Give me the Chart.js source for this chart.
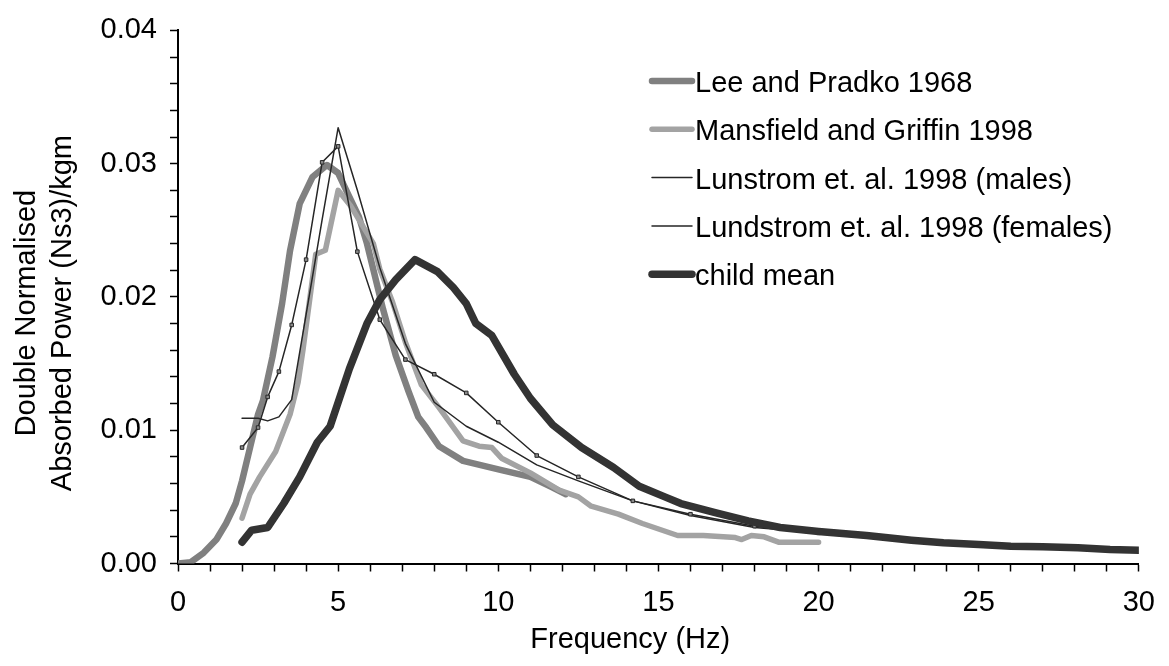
<!DOCTYPE html>
<html>
<head>
<meta charset="utf-8">
<script src="https://cdn.jsdelivr.net/npm/chart.js@4.4.1/dist/chart.umd.min.js"></script>
<style>
  body { margin: 0; background: #fff; }
  #wrap { width: 1169px; height: 666px; position: relative; }
</style>
</head>
<body>
<div id="wrap"><canvas id="chart"></canvas></div>
<script>
// Lee and Pradko 1968
const leeFreq = [0, 0.4, 0.8, 1.2, 1.5, 1.8, 2.0, 2.25, 2.5, 2.65, 2.95, 3.25, 3.5, 3.8, 4.2, 4.65, 5.0, 5.35, 5.65, 5.9, 6.4, 6.8, 7.2, 7.5, 7.75, 8.15, 8.9, 10.1, 11.0, 11.7, 12.1]
const leeVal = [0, 0.0001, 0.0008, 0.0018, 0.003, 0.0045, 0.0062, 0.0087, 0.0112, 0.0122, 0.0155, 0.0195, 0.0235, 0.027, 0.029, 0.0299, 0.0293, 0.0275, 0.026, 0.024, 0.0191, 0.0156, 0.0129, 0.011, 0.0102, 0.0088, 0.0077, 0.007, 0.0065, 0.0057, 0.0052]

// Mansfield and Griffin 1998
const mgFreq = [2.0, 2.25, 2.55, 3.05, 3.5, 3.75, 3.9, 4.1, 4.3, 4.6, 5.0, 5.4, 6.1, 6.3, 6.7, 7.1, 7.6, 8.15, 8.9, 9.4, 9.8, 10.1, 11.0, 11.9, 12.5, 12.9, 13.75, 14.5, 15.6, 16.4, 17.4, 17.6, 17.9, 18.3, 18.75, 20.0]
const mgVal = [0.0034, 0.0052, 0.0065, 0.0084, 0.0112, 0.0136, 0.016, 0.0196, 0.0232, 0.0235, 0.028, 0.0268, 0.024, 0.0221, 0.0196, 0.0166, 0.0134, 0.0117, 0.0092, 0.0088, 0.0087, 0.0079, 0.0068, 0.0055, 0.005, 0.0043, 0.0037, 0.003, 0.0021, 0.0021, 0.00195, 0.0018, 0.0021, 0.002, 0.0016, 0.0016]

// Lundstrom 1998, males and females (same bands)
const lundFreq = [2.0, 2.5, 2.8, 3.15, 3.55, 4.0, 4.5, 5.0, 5.6, 6.3, 7.1, 8.0, 9.0, 10.0, 11.2, 12.5, 14.2, 16.0, 18.0, 20.0]
const malesVal = [0.0109, 0.0109, 0.0107, 0.011, 0.0123, 0.0187, 0.0258, 0.0327, 0.028, 0.0222, 0.0165, 0.0121, 0.0103, 0.0091, 0.0074, 0.0062, 0.0047, 0.0036, 0.0027, 0.0023]
const femalesVal = [0.0087, 0.0102, 0.0125, 0.0144, 0.0179, 0.0228, 0.0301, 0.0313, 0.0234, 0.0183, 0.0153, 0.0142, 0.0128, 0.0106, 0.0081, 0.0065, 0.0047, 0.0037, 0.0028, 0.0023]

// child mean
const childFreq = [2.0, 2.3, 2.8, 3.3, 3.8, 4.35, 4.75, 5.35, 5.9, 6.3, 6.8, 7.4, 8.1, 8.6, 9.0, 9.3, 9.8, 10.5, 11.0, 11.7, 12.6, 13.6, 14.4, 15.2, 15.7, 16.8, 17.8, 18.8, 20.0, 21.5, 22.9, 23.9, 25.0, 26.0, 27.0, 28.1, 29.1, 30.0]
const childVal = [0.0016, 0.0025, 0.0027, 0.0045, 0.0065, 0.0091, 0.0103, 0.0146, 0.018, 0.0198, 0.0213, 0.0228, 0.0219, 0.0207, 0.0195, 0.018, 0.0171, 0.0142, 0.0124, 0.0104, 0.0087, 0.0072, 0.0058, 0.005, 0.0045, 0.0038, 0.0032, 0.0027, 0.0024, 0.0021, 0.00175, 0.00155, 0.00143, 0.0013, 0.00125, 0.00118, 0.00105, 0.001]

const xTickLabels = [0, 5, 10, 15, 20, 25, 30]
const yTickLabels = ["0.00", "0.01", "0.02", "0.03", "0.04"]

const FONT = "'Liberation Sans', Arial, sans-serif"

const pts = (xs, ys) => xs.map((x, i) => ({x: x, y: ys[i]}))

// legend drawn inside the plot, top right
const innerLegend = {
    id: "innerLegend",
    afterDraw(chart) {
        const ctx = chart.ctx
        ctx.save()
        ctx.font = "29px " + FONT
        ctx.textBaseline = "middle"
        ctx.fillStyle = "#000"
        chart.data.datasets.forEach((ds, i) => {
            const y = 81 + i * 48.3
            ctx.strokeStyle = ds.borderColor
            ctx.lineWidth = ds.legendWidth
            ctx.lineCap = "round"
            ctx.beginPath()
            ctx.moveTo(652, y)
            ctx.lineTo(692, y)
            ctx.stroke()
            ctx.fillText(ds.label, 695, y + 3)
        })
        ctx.restore()
    }
}

const ds = (label, data, color, width, order, extra) => Object.assign({
    label: label,
    data: data,
    borderColor: color,
    backgroundColor: color,
    borderWidth: width,
    legendWidth: width,
    pointRadius: 0,
    tension: 0,
    borderJoinStyle: "round",
    borderCapStyle: "round",
    order: order
}, extra || {})

new Chart(document.getElementById("chart"), {
    type: "line",
    data: {
        datasets: [
            ds("Lee and Pradko 1968", pts(leeFreq, leeVal), "#808080", 6.5, 5),
            ds("Mansfield and Griffin 1998", pts(mgFreq, mgVal), "#a3a3a3", 5.5, 4),
            ds("Lunstrom et. al. 1998 (males)", pts(lundFreq, malesVal), "#262626", 1.5, 3),
            ds("Lundstrom et. al. 1998 (females)", pts(lundFreq, femalesVal), "#262626", 1.5, 2, {
                pointRadius: 2.5,
                pointStyle: "rect",
                pointBackgroundColor: "#8a8a8a",
                pointBorderColor: "#262626",
                pointBorderWidth: 1
            }),
            ds("child mean", pts(childFreq, childVal), "#333333", 7.5, 1)
        ]
    },
    options: {
        responsive: true,
        maintainAspectRatio: false,
        animation: false,
        devicePixelRatio: 1,
        layout: { padding: { top: 25, right: 27, bottom: 0, left: 0 } },
        plugins: {
            legend: { display: false },
            tooltip: { enabled: false }
        },
        scales: {
            x: {
                type: "linear",
                min: 0,
                max: 30,
                afterFit: (s) => { s.height = 102.5 },
                border: { color: "#000", width: 2 },
                grid: { drawOnChartArea: false, drawTicks: true, tickLength: 8, tickColor: "#000", tickWidth: 1.5 },
                ticks: {
                    stepSize: 1,
                    autoSkip: false,
                    maxRotation: 0,
                    padding: 14,
                    color: "#000",
                    font: { family: FONT, size: 29 },
                    callback: (v) => xTickLabels.includes(v) ? String(v) : ""
                },
                title: {
                    display: true,
                    // trailing spaces pull the title a bit to the left, like the original
                    text: "Frequency (Hz)       ",
                    color: "#000",
                    font: { family: FONT, size: 29, lineHeight: 1.2 },
                    padding: { top: 0, bottom: 9 }
                }
            },
            y: {
                min: 0,
                max: 0.04,
                afterFit: (s) => { s.width = 178 },
                border: { color: "#000", width: 2 },
                grid: { drawOnChartArea: false, drawTicks: true, tickLength: 8, tickColor: "#000", tickWidth: 1.5 },
                ticks: {
                    stepSize: 0.002,
                    autoSkip: false,
                    padding: 13,
                    color: "#000",
                    font: { family: FONT, size: 29 },
                    callback: (v) => {
                        const k = Math.round(v * 1000)
                        return k % 10 === 0 ? yTickLabels[k / 10] : ""
                    }
                },
                title: {
                    display: true,
                    // trailing spaces nudge the rotated text a little lower, as in the original
                    text: ["Double Normalised    ", "Absorbed Power (Ns3)/kgm    "],
                    color: "#000",
                    font: { family: FONT, size: 29, lineHeight: 1.25 },
                    padding: { top: 9, bottom: 0 }
                }
            }
        }
    },
    plugins: [innerLegend]
})
</script>
</body>
</html>
